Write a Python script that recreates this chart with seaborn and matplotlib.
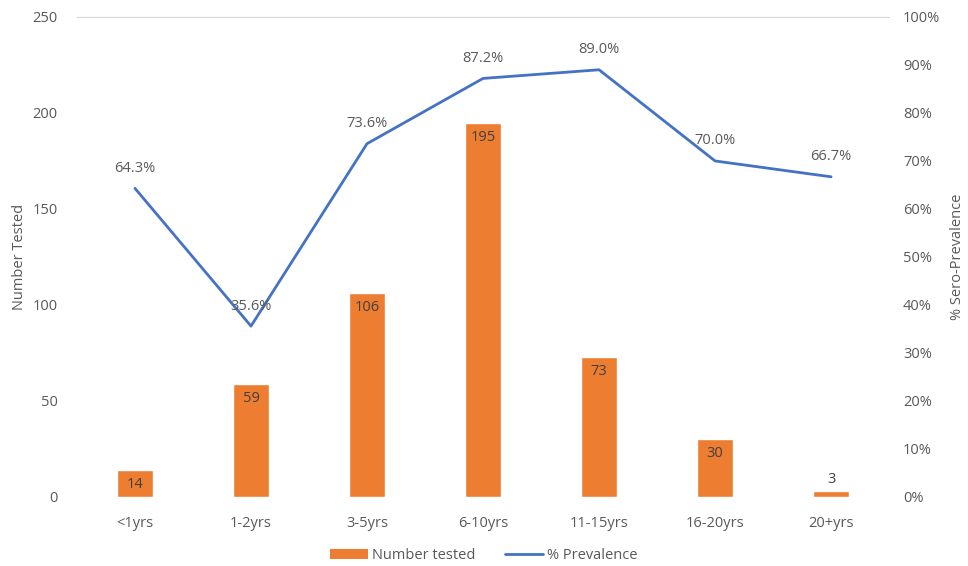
import numpy as np
import pandas as pd
import matplotlib
matplotlib.use("Agg")
import matplotlib.pyplot as plt
import seaborn as sns
from matplotlib.patches import Patch
from matplotlib.lines import Line2D
from matplotlib.ticker import PercentFormatter

age_groups = ['<1yrs', '1-2yrs', '3-5yrs', '6-10yrs', '11-15yrs', '16-20yrs', '20+yrs']
n_tested = [14, 59, 106, 195, 73, 30, 3]
prevalence = [64.3, 35.6, 73.6, 87.2, 89.0, 70.0, 66.7]

ORANGE = '#ED7D31'
BLUE = '#4472C4'
GREY = '#595959'

sns.set_style("white")
plt.rcParams['font.family'] = ['Open Sans', 'DejaVu Sans']
plt.rcParams['font.size'] = 10.5

df = pd.DataFrame({'age': age_groups, 'n': n_tested, 'prev': prevalence})

fig = plt.figure(figsize=(9.68, 5.66), dpi=100)
ax = fig.add_axes([0.0795, 0.122, 0.839, 0.848])

sns.barplot(data=df, x='age', y='n', color=ORANGE, width=0.31, saturation=1, ax=ax)
ax.set_ylim(0, 250)
ax.set_yticks(range(0, 251, 50))
ax.set_xlim(-0.5, len(age_groups) - 0.5)
ax.set_xlabel('')
ax.set_ylabel('Number Tested', color=GREY, fontsize=10.5)

# bar values sit just inside the bar top, tiny bars get them above
for bar, v in zip(ax.patches, n_tested):
    inside = v > 10
    ax.annotate(str(v), (bar.get_x() + bar.get_width() / 2, bar.get_height()),
                xytext=(0, -5 if inside else 3), textcoords='offset points', ha='center',
                va='top' if inside else 'bottom', color='#404040', fontsize=10.5)

ax2 = ax.twinx()
x_pos = np.arange(len(age_groups))
sns.lineplot(x=x_pos, y=prevalence, color=BLUE, linewidth=2.0, ax=ax2)
ax2.set_ylim(0, 100)
ax2.set_yticks(range(0, 101, 10))
ax2.yaxis.set_major_formatter(PercentFormatter(decimals=0))
ax2.set_ylabel('% Sero-Prevalence', color=GREY, fontsize=10.5, labelpad=7)

for xp, p in zip(x_pos, prevalence):
    ax2.annotate(f'{p:.1f}%', (xp, p), xytext=(0, 9), textcoords='offset points',
                 ha='center', va='bottom', color=GREY, fontsize=10.5)

for a in (ax, ax2):
    for s in ['left', 'right', 'bottom']:
        a.spines[s].set_visible(False)
    a.spines['top'].set_color('#d9d9d9')
    a.tick_params(length=0, colors=GREY, labelsize=10.5)
ax.tick_params(axis='x', pad=14)
ax.tick_params(axis='y', pad=14)
ax2.tick_params(axis='y', pad=10)

handles = [Patch(facecolor=ORANGE, edgecolor='none'), Line2D([], [], color=BLUE, linewidth=2.0)]
fig.legend(handles, ['Number tested', '% Prevalence'], loc='lower center', ncol=2,
           frameon=False, bbox_to_anchor=(0.5, -0.018), fontsize=10.5, labelcolor=GREY,
           handlelength=2.6, handletextpad=0.3, columnspacing=2.0)

fig.savefig('out.png', dpi=100)
